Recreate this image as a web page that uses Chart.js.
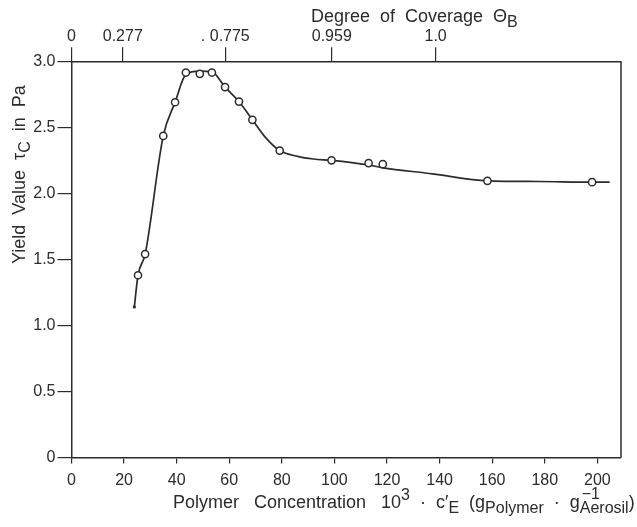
<!DOCTYPE html>
<html>
<head>
<meta charset="utf-8">
<script src="https://cdn.jsdelivr.net/npm/chart.js@4.4.1/dist/chart.umd.min.js"></script>
<style>
  html, body { margin: 0; padding: 0; background: #fff; }
  canvas { display: block; }
</style>
</head>
<body>
<canvas id="yield-chart" width="637" height="527"></canvas>
<script>
// measured points (open circles)
const concentration = [25.3, 28, 34.9, 39.4, 43.5, 48.8, 53.4, 58.4, 63.7, 68.8, 79.2, 98.9, 113, 118.4, 158.2, 198]
const yieldValue = [1.38, 1.54, 2.435, 2.69, 2.915, 2.905, 2.915, 2.805, 2.695, 2.557, 2.324, 2.25, 2.229, 2.221, 2.095, 2.085]

// hand drawn curve through the points
const curveX = [23.9, 25.3, 28, 34.9, 39.4, 43.5, 48.8, 53.4, 58.4, 63.7, 68.8, 73.5, 79.2, 86, 92, 98.9, 113, 118, 137.3, 158.2, 178, 198, 204.7]
const curveY = [1.14, 1.38, 1.54, 2.435, 2.69, 2.9, 2.925, 2.92, 2.805, 2.695, 2.557, 2.43, 2.324, 2.28, 2.26, 2.25, 2.215, 2.195, 2.148, 2.095, 2.09, 2.085, 2.085]

const startDot = [23.9, 1.14]

const xTicks = [0, 20, 40, 60, 80, 100, 120, 140, 160, 180, 200]
const yTicks = [0, 0.5, 1.0, 1.5, 2.0, 2.5, 3.0]
const coverageTickPos = [0, 19.5, 58.5, 99, 138.5]
const coverageLabels = ['0', '0.277', '. 0.775', '0.959', '1.0']

const ink = '#2b2b2b'
const font = 'Liberation Sans, Arial, sans-serif'

function richText(ctx, parts, x, y, size, small) {
    let cx = x
    parts.forEach(p => {
        if (p.stack) {
            ctx.font = small + 'px ' + font
            const w1 = ctx.measureText(p.sup).width
            const w2 = ctx.measureText(p.sub).width
            ctx.fillText(p.sup, cx + 2, y - 9)
            ctx.fillText(p.sub, cx, y + 5)
            cx += Math.max(w1, w2)
        } else if (p.sub || p.sup) {
            ctx.font = small + 'px ' + font
            ctx.fillText(p.sub || p.sup, cx, p.sub ? y + 5 : y - 8)
            cx += ctx.measureText(p.sub || p.sup).width
        } else {
            ctx.font = size + 'px ' + font
            ctx.fillText(p.t, cx, y)
            cx += ctx.measureText(p.t).width
        }
    })
    return cx - x
}

const titlesPlugin = {
    id: 'titles',
    afterDraw(chart) {
        const ctx = chart.ctx
        const area = chart.chartArea
        ctx.save()
        ctx.fillStyle = ink
        ctx.strokeStyle = ink
        ctx.textAlign = 'left'
        ctx.textBaseline = 'alphabetic'

        // right edge of the frame
        ctx.lineWidth = 1.5
        ctx.beginPath()
        ctx.moveTo(area.right, area.top)
        ctx.lineTo(area.right, area.bottom)
        ctx.stroke()

        const bottomTitle = [
            { t: 'Polymer   Concentration   10' }, { sup: '3' }, { t: '  ·  c′' }, { sub: 'E' },
            { t: '  (g' }, { sub: 'Polymer' }, { t: '  ·  g' }, { stack: true, sup: '−1', sub: 'Aerosil' }, { t: ')' }
        ]
        richText(ctx, bottomTitle, 173, 508, 18, 16)

        const topTitle = [{ t: 'Degree  of  Coverage  Θ' }, { sub: 'B' }]
        richText(ctx, topTitle, 311, 22, 18, 16)

        ctx.translate(25, 264)
        ctx.rotate(-Math.PI / 2)
        const leftTitle = [{ t: 'Yield  Value  τ' }, { sub: 'C' }, { t: '  in  Pa' }]
        richText(ctx, leftTitle, 0, 0, 18, 16)
        ctx.restore()
    }
}

function renderChart() {
    const ctx = document.getElementById('yield-chart')
    const tickFont = { family: font, size: 16 }

    new Chart(ctx, {
        type: 'scatter',
        data: {
            datasets: [{
                label: 'measured',
                data: concentration.map((c, i) => ({ x: c, y: yieldValue[i] })),
                pointRadius: 3.6,
                pointBorderWidth: 1.5,
                pointBorderColor: ink,
                pointBackgroundColor: '#fff',
                showLine: false,
                order: 0
            }, {
                label: 'curve',
                data: curveX.map((c, i) => ({ x: c, y: curveY[i] })),
                showLine: true,
                borderColor: ink,
                borderWidth: 1.7,
                pointRadius: 0,
                cubicInterpolationMode: 'monotone',
                order: 2
            }, {
                label: 'start',
                data: [{ x: startDot[0], y: startDot[1] }],
                pointRadius: 1.6,
                pointBorderWidth: 0,
                pointBackgroundColor: ink,
                order: 1
            }]
        },
        options: {
            responsive: false,
            animation: false,
            layout: { padding: { right: 16 } },
            plugins: { legend: { display: false }, tooltip: { enabled: false } },
            scales: {
                x: {
                    type: 'linear',
                    position: 'bottom',
                    min: 0,
                    max: 209,
                    afterBuildTicks: s => { s.ticks = xTicks.map(v => ({ value: v })) },
                    afterFit: s => { s.height = 69.5 },
                    grid: { drawOnChartArea: false, tickLength: 6, color: ink, lineWidth: 1.2 },
                    border: { color: ink, width: 1.5 },
                    ticks: { color: ink, font: tickFont, padding: 7, maxRotation: 0 }
                },
                x2: {
                    type: 'linear',
                    position: 'top',
                    min: 0,
                    max: 209,
                    afterBuildTicks: s => { s.ticks = coverageTickPos.map(v => ({ value: v })) },
                    afterFit: s => { s.height = 61.3 },
                    grid: { drawOnChartArea: false, tickLength: 14, color: ink, lineWidth: 1.2 },
                    border: { color: ink, width: 1.5 },
                    ticks: {
                        color: ink, font: tickFont, padding: 1, maxRotation: 0,
                        callback: (v, i) => coverageLabels[i]
                    }
                },
                y: {
                    min: 0,
                    max: 3,
                    afterBuildTicks: s => { s.ticks = yTicks.map(v => ({ value: v })) },
                    afterFit: s => { s.width = 71.5 },
                    grid: { drawOnChartArea: false, tickLength: 14, color: ink, lineWidth: 1.2 },
                    border: { color: ink, width: 1.5 },
                    ticks: {
                        color: ink, font: tickFont, padding: 2,
                        callback: v => v === 0 ? '0' : v.toFixed(1)
                    }
                }
            }
        },
        plugins: [titlesPlugin]
    })
}

renderChart()
</script>
</body>
</html>
